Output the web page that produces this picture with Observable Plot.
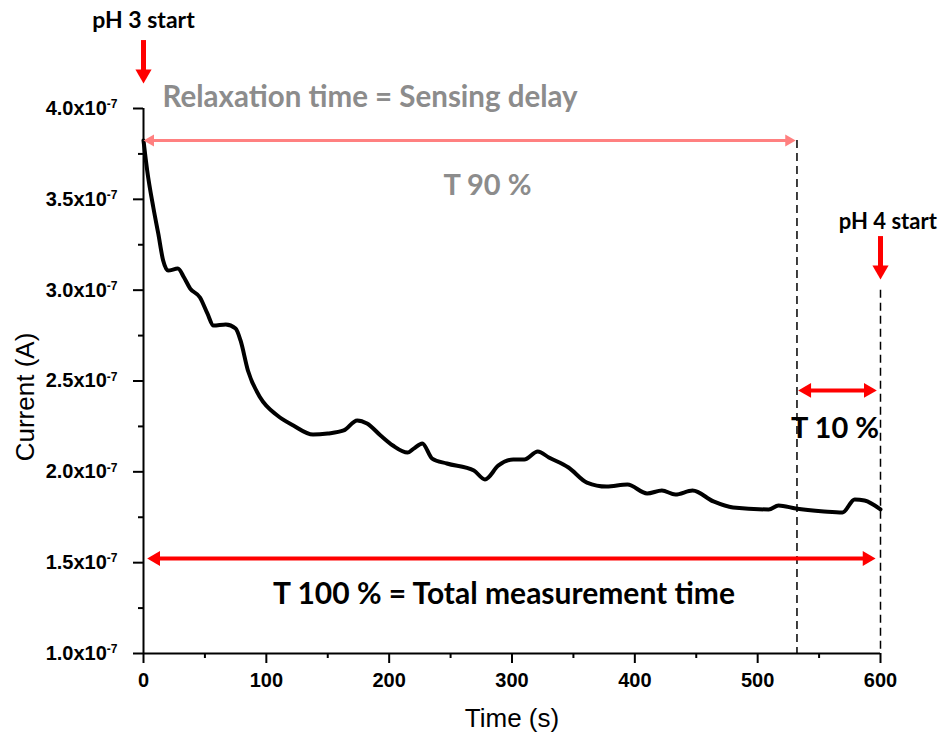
<!DOCTYPE html>
<html>
<head>
<meta charset="utf-8">
<script src="https://cdn.jsdelivr.net/npm/d3@7"></script>
<script src="https://cdn.jsdelivr.net/npm/@observablehq/plot@0.6"></script>
<style>
  body { margin: 0; background: #fff; }
  #chart svg { display: block; }
</style>
</head>
<body>
<div id="chart"></div>
<script>
// ---------- data (current expressed in units of 1e-7 A) ----------
const timeS = [0, 3, 8, 12, 16, 20, 28, 33, 38, 46, 52, 57, 67, 75, 79, 85, 95, 109, 122, 138,
  150, 163, 174, 182, 193, 203, 215, 220, 227, 235, 247, 269, 278, 289, 301, 310, 321, 330, 346, 361,
  377, 394, 410, 422, 433, 447, 464, 480, 509, 517, 531, 554, 569, 579, 587, 600];
const currentE7 = [3.824, 3.659, 3.455, 3.312, 3.163, 3.108, 3.119, 3.070, 3.009, 2.960, 2.872, 2.805, 2.811, 2.789, 2.723, 2.558, 2.409, 2.310, 2.255, 2.205,
  2.211, 2.228, 2.283, 2.266, 2.200, 2.145, 2.106, 2.128, 2.156, 2.073, 2.046, 2.007, 1.958, 2.035, 2.068, 2.068, 2.112, 2.079, 2.024, 1.941,
  1.919, 1.930, 1.881, 1.897, 1.875, 1.897, 1.837, 1.804, 1.793, 1.815, 1.798, 1.782, 1.776, 1.848, 1.842, 1.793];

const xTicks = [0, 100, 200, 300, 400, 500, 600];
const xMinorTicks = [50, 150, 250, 350, 450, 550];
const yTicks = [1.0, 1.5, 2.0, 2.5, 3.0, 3.5, 4.0];
const yMinorTicks = [1.25, 1.75, 2.25, 2.75, 3.25, 3.75];
const yExponent = "-7";

// event times (s)
const pH3Start = 0;
const t90End = 532;
const pH4Start = 600;

// annotation levels (units of 1e-7 A)
const relaxArrowLevel = 3.824;
const t10ArrowLevel = 2.448;
const t100ArrowLevel = 1.523;

const labelTexts = ["pH 3 start", "Relaxation time = Sensing delay", "T 90 %", "pH 4 start", "T 10 %", "T 100 % = Total measurement time"];
const labelX = [0, 15.5, 280, 606, 563, 293.5];
const labelY = [4.482, 4.058, 3.573, 3.376, 2.236, 1.325];

const data = timeS.map((t, i) => ({t, I: currentE7[i]}));

// ---------- styling ----------
const AX_FONT = "'Liberation Sans', Arial, sans-serif";
const ANN_FONT = "Lato, 'Open Sans', sans-serif";
const RED = "#ff0000", PINK = "#ff8080", GRAY = "#8c8c8c";

function tipOffset(r) { return 2 * Math.sqrt(Math.PI * r * r / (3 * Math.sqrt(3))); }
function head(x, y, dir, r, fill) {
  const o = tipOffset(r);
  const rot = {right: 90, left: -90, down: 180}[dir];
  return Plot.dot([{x, y}], {
    x: "x", y: "y", symbol: "triangle", r, rotate: rot, fill,
    dx: dir === "right" ? -o : dir === "left" ? o : 0,
    dy: dir === "down" ? -o : 0
  });
}
function hArrow(x1, x2, y, color, width, r) {
  const o = tipOffset(r) * 0.6;
  return [
    Plot.ruleY([y], {x1, x2, stroke: color, strokeWidth: width, insetLeft: o, insetRight: o}),
    head(x1, y, "left", r, color),
    head(x2, y, "right", r, color)
  ];
}
function downArrow(x, yTop, yTip, color, width, r) {
  const o = tipOffset(r) * 0.6;
  return [
    Plot.ruleX([x], {y1: yTop, y2: yTip, stroke: color, strokeWidth: width, insetBottom: o}),
    head(x, yTip, "down", r, color)
  ];
}
function label(i, opts) {
  return Plot.text([i], {x: d => labelX[d], y: d => labelY[d], text: d => labelTexts[d],
    fontFamily: ANN_FONT, fontWeight: "bold", ...opts});
}

const chart = Plot.plot({
  width: 939,
  height: 738,
  marginLeft: 143,
  marginRight: 59,
  marginTop: 108,
  marginBottom: 85,
  style: {fontFamily: AX_FONT, background: "#fff", color: "#000", overflow: "visible"},
  x: {domain: [0, 600]},
  y: {domain: [1, 4]},
  marks: [
    // axes
    Plot.axisX({ticks: xTicks, tickSize: 10, tickPadding: 9, strokeWidth: 2, fontSize: 20, fontWeight: "bold", fontFamily: AX_FONT, label: null}),
    Plot.axisX({ticks: xMinorTicks, tickSize: 5, strokeWidth: 2, tickFormat: () => "", label: null}),
    Plot.axisY({ticks: yTicks, tickSize: 10, tickPadding: 16, strokeWidth: 2, fontSize: 20, fontWeight: "bold", fontFamily: AX_FONT,
      tickFormat: d => d.toFixed(1) + "x10", label: null}),
    Plot.axisY({ticks: yMinorTicks, tickSize: 5, strokeWidth: 2, tickFormat: () => "", label: null}),
    Plot.ruleY([1], {strokeWidth: 2}),
    Plot.ruleX([0], {strokeWidth: 2}),
    Plot.text(["Time (s)"], {frameAnchor: "bottom", lineAnchor: "middle", dy: 65, fontSize: 26, fontFamily: AX_FONT}),
    Plot.text(["Current (A)"], {frameAnchor: "left", textAnchor: "middle", lineAnchor: "middle", rotate: -90, dx: -118, dy: 16, fontSize: 26, fontFamily: AX_FONT}),

    // dashed guides
    Plot.ruleX([t90End], {y1: relaxArrowLevel, y2: 1, stroke: "#000", strokeWidth: 1.5, strokeDasharray: "8,5"}),
    Plot.ruleX([pH4Start], {y1: 3.0, y2: 1, stroke: "#000", strokeWidth: 1.5, strokeDasharray: "8,5"}),

    // data curve
    Plot.line(data, {x: "t", y: "I", stroke: "#000", strokeWidth: 4, strokeLinejoin: "round", curve: "monotone-x"}),

    // arrows
    ...downArrow(pH3Start, 4.374, 4.137, RED, 5, 6),
    ...downArrow(pH4Start, 3.295, 3.059, RED, 5, 6),
    ...hArrow(0, 531, relaxArrowLevel, PINK, 3, 4.5),
    ...hArrow(533, 597, t10ArrowLevel, RED, 4, 5.5),
    ...hArrow(3, 596, t100ArrowLevel, RED, 4, 5.5),

    // labels
    label(0, {fontSize: 23, fill: "#000"}),
    label(1, {fontSize: 29.5, fill: GRAY, textAnchor: "start"}),
    label(2, {fontSize: 29, fill: GRAY}),
    label(3, {fontSize: 22, fill: "#000"}),
    label(4, {fontSize: 29, fill: "#000"}),
    label(5, {fontSize: 30, fill: "#000"})
  ]
});

// thicker axis ticks
d3.select(chart).selectAll('g[aria-label="x-axis tick"], g[aria-label="y-axis tick"]').attr("stroke-width", 2);

// superscript exponent on y tick labels
d3.select(chart).selectAll('g[aria-label="y-axis tick label"] text').each(function () {
  const s = this.textContent;
  if (!s) return;
  d3.select(this).append("tspan").attr("dy", "-0.55em").attr("font-size", "12px").text(yExponent);
});

document.getElementById("chart").appendChild(chart);
</script>
</body>
</html>
